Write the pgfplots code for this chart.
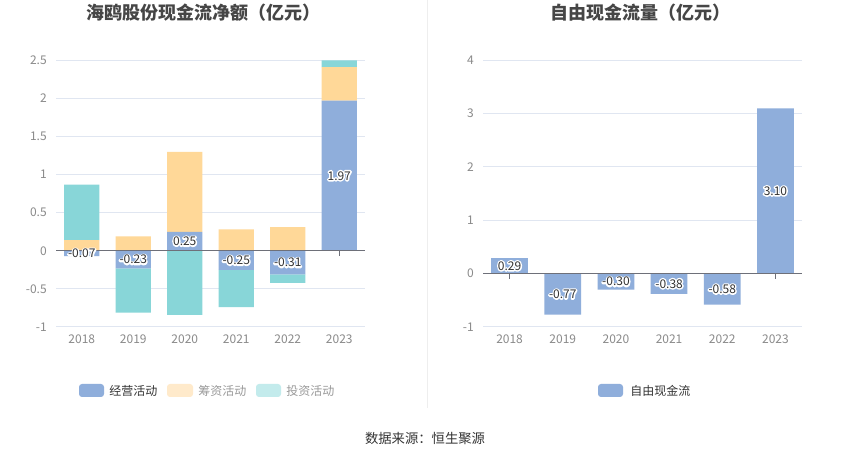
\documentclass[border=0pt]{standalone}
\usepackage{pgfplots}
\pgfplotsset{compat=1.18}
\usepackage{fontspec}
\setmainfont{Noto Sans CJK SC}
\definecolor{cblue}{HTML}{8FAEDB}
\definecolor{cyellow}{HTML}{FFD898}
\definecolor{cteal}{HTML}{88D6D8}
\definecolor{lyellow}{HTML}{FFEACB}
\definecolor{lteal}{HTML}{C3EBEC}
\definecolor{gridc}{HTML}{E0E6F1}
\definecolor{tickc}{HTML}{8A8A8A}
\definecolor{axisc}{HTML}{6E7079}
\definecolor{titlec}{HTML}{464646}
\definecolor{txt}{HTML}{333333}
\definecolor{legg}{HTML}{999999}
\definecolor{divc}{HTML}{EEEEEE}

\newcommand{\halo}[1]{\rlap{\color{white}\special{pdf:literal direct 2 Tr 2.2 w 1 j}#1\special{pdf:literal direct 0 Tr 0 j}}#1}

\pgfplotsset{
  common/.style={scale only axis, height=200pt, xmin=-0.5, xmax=5.5,
    anchor=south west, clip=false},
  L/.style={common, width=231.75pt, at={(42pt,99pt)}, ymin=-1, ymax=2.5},
  R/.style={common, width=239.25pt, at={(362.25pt,99pt)}, ymin=-1, ymax=4},
  deco/.style={xtick={0,...,5}, xticklabels={2018,2019,2020,2021,2022,2023},
    ymajorgrids, grid style={gridc, line width=0.75pt},
    axis line style={draw=none}, major tick style={draw=none},
    tick label style={font=\fontsize{9}{10}\selectfont, text=tickc, inner sep=0pt},
    yticklabel style={anchor=east, xshift=-6.75pt},
    xticklabel style={anchor=north, yshift=-5.5pt}},
  lab/.style={only marks, mark=text, text mark={},
    point meta=explicit symbolic,
    nodes near coords={\halo{\pgfplotspointmeta}},
    every node near coord/.style={anchor=center, inner sep=0pt,
      font=\fontsize{9}{10}\selectfont, text=txt}},
}

\begin{document}
\begin{tikzpicture}
\path[fill=white] (0,0) rectangle (637.5pt,344.25pt);
\draw[divc, line width=0.75pt] (320.25pt,344.25pt) -- (320.25pt,38.25pt);

% ---------- left chart ----------
\begin{axis}[L, deco, ytick={-1,-0.5,0,0.5,1,1.5,2,2.5},
  yticklabels={-1,-0.5,0,0.5,1,1.5,2,2.5}]
\pgfplotsinvokeforeach{0,...,5}{\draw[axisc, line width=0.75pt] (axis cs:#1,0) -- ++(0pt,-3.75pt);}
\end{axis}
\begin{axis}[L, hide axis, ybar stacked, bar width=0.68]
\addplot[fill=cblue, draw=none] coordinates {(0,0) (1,0) (2,0.25) (3,0) (4,0) (5,1.97)};
\addplot[fill=cyellow, draw=none] coordinates {(0,0.14) (1,0.19) (2,1.05) (3,0.28) (4,0.31) (5,0.44)};
\addplot[fill=cteal, draw=none] coordinates {(0,0.73) (1,0) (2,0) (3,0) (4,0) (5,0.09)};
\end{axis}
\begin{axis}[L, hide axis, ybar stacked, bar width=0.68]
\addplot[fill=cblue, draw=none] coordinates {(0,-0.07) (1,-0.23) (2,0) (3,-0.25) (4,-0.31) (5,0)};
\addplot[fill=cteal, draw=none] coordinates {(0,0) (1,-0.58) (2,-0.84) (3,-0.49) (4,-0.11) (5,0)};
\end{axis}
\begin{axis}[L, hide axis]
\draw[axisc, line width=0.75pt] (axis cs:-0.5,0) -- (axis cs:5.5,0);
\addplot[lab] coordinates {(0,-0.035)[-0.07] (1,-0.115)[-0.23] (2,0.125)[0.25] (3,-0.125)[-0.25] (4,-0.155)[-0.31] (5,0.985)[1.97]};
\end{axis}

% ---------- right chart ----------
\begin{axis}[R, deco, ytick={-1,0,1,2,3,4}, yticklabels={-1,0,1,2,3,4}]
\pgfplotsinvokeforeach{0,...,5}{\draw[axisc, line width=0.75pt] (axis cs:#1,0) -- ++(0pt,-3.75pt);}
\addplot[ybar, bar width=0.69, bar shift=0pt, fill=cblue, draw=none] coordinates {(0,0.29) (1,-0.77) (2,-0.30) (3,-0.38) (4,-0.58) (5,3.10)};
\draw[axisc, line width=0.75pt] (axis cs:-0.5,0) -- (axis cs:5.5,0);
\addplot[lab] coordinates {(0,0.145)[0.29] (1,-0.385)[-0.77] (2,-0.15)[-0.30] (3,-0.19)[-0.38] (4,-0.29)[-0.58] (5,1.55)[3.10]};
\end{axis}

% ---------- titles ----------
\node[font=\fontsize{13.5}{15}\selectfont\bfseries, text=titlec] at (152.25pt,334.5pt) {海鸥股份现金流净额（亿元）};
\node[font=\fontsize{13.5}{15}\selectfont\bfseries, text=titlec] at (480pt,334.5pt) {自由现金流量（亿元）};

% ---------- legends ----------
\begin{scope}[font=\fontsize{9}{10}\selectfont]
\fill[cblue, rounded corners=2.25pt] (59.25pt,46.5pt) rectangle (78pt,56.25pt);
\node[anchor=west, inner sep=0pt, text=txt] at (81.75pt,51.4pt) {经营活动};
\fill[lyellow, rounded corners=2.25pt] (125.25pt,46.5pt) rectangle (144.75pt,56.25pt);
\node[anchor=west, inner sep=0pt, text=legg] at (148.5pt,51.4pt) {筹资活动};
\fill[lteal, rounded corners=2.25pt] (192pt,46.5pt) rectangle (210.75pt,56.25pt);
\node[anchor=west, inner sep=0pt, text=legg] at (214.5pt,51.4pt) {投资活动};
\fill[cblue, rounded corners=2.25pt] (448.5pt,46.5pt) rectangle (467.25pt,56.25pt);
\node[anchor=west, inner sep=0pt, text=txt] at (472.5pt,51.4pt) {自由现金流};
\end{scope}

\node[font=\fontsize{10}{12}\selectfont, text=txt] at (318.75pt,15.75pt) {数据来源：恒生聚源};

\pgfresetboundingbox
\path (0,0) rectangle (637.5pt,344.25pt);
\end{tikzpicture}
\end{document}
